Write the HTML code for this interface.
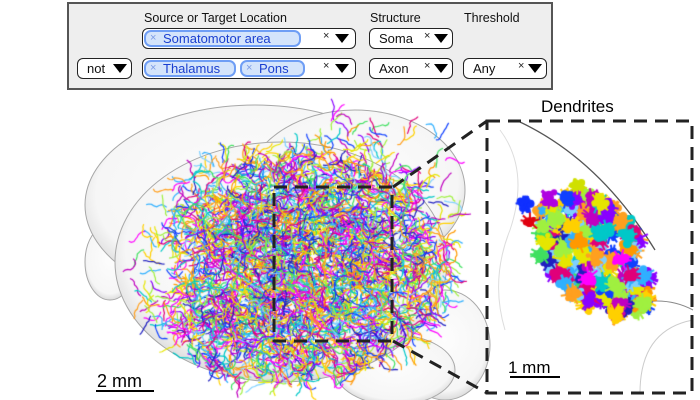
<!DOCTYPE html>
<html><head><meta charset="utf-8"><style>
body{margin:0;width:700px;height:400px;background:#fff;position:relative;overflow:hidden;font-family:"Liberation Sans",sans-serif}
#panel{position:absolute;left:67px;top:2px;width:482px;height:84px;background:#eeeeee;border:2px solid #555;box-sizing:content-box}
.lbl{position:absolute;font-size:12.5px;color:#111}
.sel{position:absolute;height:21px;border:1.5px solid #222;border-radius:6px;background:#fff;box-sizing:border-box}
.chip{position:absolute;top:1px;height:17px;border:2px solid #6f9ef5;border-radius:7px;background:#d4e4fb;box-sizing:border-box;font-size:13px;color:#1a3fd0;line-height:13px;padding-left:17px}
.chip:before{content:"×";position:absolute;left:4px;top:0px;color:#7b9be6;font-size:11px}
.x{position:absolute;font-size:11px;top:1px;color:#222}
.tri{position:absolute;top:5px;width:0;height:0;border-left:7px solid transparent;border-right:7px solid transparent;border-top:9px solid #000}
.t{position:absolute;font-size:13px;top:2px;color:#111}
canvas,svg{position:absolute;left:0;top:0}
</style></head><body>
<svg width="700" height="400">
<defs><radialGradient id="g" cx="50%" cy="45%" r="55%"><stop offset="0" stop-color="#fdfdfd"/><stop offset="0.85" stop-color="#f6f6f6"/><stop offset="1" stop-color="#dcdcdc"/></radialGradient></defs>
<g fill="url(#g)" stroke="#a8a8a8" stroke-width="1">
<ellipse cx="445" cy="345" rx="45" ry="55"/>
<ellipse cx="395" cy="370" rx="60" ry="35"/>
<ellipse cx="110" cy="262" rx="25" ry="38"/>
<ellipse cx="255" cy="205" rx="170" ry="100"/>
<ellipse cx="355" cy="190" rx="110" ry="80"/>
<ellipse cx="281" cy="262" rx="166" ry="120"/>
</g>
<path d="M520 122 Q600 160 655 250" fill="none" stroke="#555" stroke-width="1.3"/>
<path d="M630 305 Q665 295 693 310" fill="none" stroke="#888"/>
<path d="M640 393 Q640 330 693 320" fill="none" stroke="#ccc"/>
<path d="M500 130 Q530 170 510 230 Q490 280 505 330" fill="none" stroke="#ddd"/>
</svg>
<canvas id="c" width="700" height="400"></canvas>
<svg width="700" height="400">
<g fill="none" stroke="#222" stroke-width="3" stroke-dasharray="13,8">
<rect x="274" y="187" width="118" height="154"/>
<rect x="487" y="121" width="205" height="272"/>
<line x1="393" y1="187" x2="487" y2="121"/>
<line x1="393" y1="341" x2="487" y2="393"/>
</g>
<line x1="96" y1="391" x2="154" y2="391" stroke="#000" stroke-width="2"/>
<line x1="510" y1="377" x2="560" y2="377" stroke="#000" stroke-width="2"/>
<text x="97" y="387" font-size="18" font-family="Liberation Sans">2 mm</text>
<text x="508" y="373" font-size="17" font-family="Liberation Sans">1 mm</text>
<text x="541" y="112" font-size="17" font-family="Liberation Sans">Dendrites</text>
</svg>
<div id="panel">
<div class="lbl" style="left:75px;top:7px">Source or Target Location</div>
<div class="lbl" style="left:301px;top:7px">Structure</div>
<div class="lbl" style="left:395px;top:7px">Threshold</div>
<div class="sel" style="left:73px;top:24px;width:214px"><div class="chip" style="left:1px;width:157px">Somatomotor area</div><span class="x" style="left:180px">×</span><div class="tri" style="left:192px"></div></div>
<div class="sel" style="left:300px;top:24px;width:84px"><span class="t" style="left:9px">Soma</span><span class="x" style="left:54px">×</span><div class="tri" style="left:64px"></div></div>
<div class="sel" style="left:8px;top:54px;width:55px"><span class="t" style="left:9px">not</span><div class="tri" style="left:35px"></div></div>
<div class="sel" style="left:73px;top:54px;width:214px"><div class="chip" style="left:1px;width:92px">Thalamus</div><div class="chip" style="left:97px;width:65px">Pons</div><span class="x" style="left:180px">×</span><div class="tri" style="left:192px"></div></div>
<div class="sel" style="left:300px;top:54px;width:84px"><span class="t" style="left:9px">Axon</span><span class="x" style="left:54px">×</span><div class="tri" style="left:64px"></div></div>
<div class="sel" style="left:394px;top:54px;width:84px"><span class="t" style="left:9px">Any</span><span class="x" style="left:54px">×</span><div class="tri" style="left:64px"></div></div>
</div>
<script>
var s=7;function r(){s=(s*16807)%2147483647;return s/2147483647;}
var c=document.getElementById('c').getContext('2d');
var cols=['#ff00ff','#e0007a','#ffd000','#e6e600','#00c8c8','#1040ff','#8a00ff','#ff9900','#40e060','#7fd0ff','#c000c0','#ffa020','#30b0ff','#a0f040','#2020c0'];
c.lineWidth=1.2;
function inside(x,y){var dx=(x-290)/160,dy=(y-268)/118;return dx*dx+dy*dy<1;}
for(var i=0;i<4500;i++){
 var x=295+(r()+r()+r()-1.5)*190,y=268+(r()+r()+r()-1.5)*150;
 var ok=inside(x,y)||(x>320&&x<455&&y>120&&y<220&&r()<0.5);
 if(!ok)continue;
 if(x<180&&r()<0.6)continue;
 c.strokeStyle=cols[Math.floor(r()*cols.length)];
 c.beginPath();c.moveTo(x,y);var a=r()*6.28;
 for(var k=0;k<8;k++){a+=(r()-0.5)*1.6;x+=Math.cos(a)*2.8;y+=Math.sin(a)*2.8;c.lineTo(x,y);}
 c.stroke();}
function blob(cx,cy,col,sz){c.fillStyle=col;c.strokeStyle=col;c.lineWidth=2;
 for(var j=0;j<18;j++){var a=r()*6.28,d=r()*sz;c.beginPath();c.arc(cx+Math.cos(a)*d,cy+Math.sin(a)*d,1.5+r()*3,0,6.28);c.fill();}
 for(var j=0;j<5;j++){var a=r()*6.28;c.beginPath();c.moveTo(cx,cy);c.lineTo(cx+Math.cos(a)*sz*1.6,cy+Math.sin(a)*sz*1.6);c.stroke();}}
for(var i=0;i<220;i++){
 var u=r()*2-1,v=r()*2-1; if(u*u+v*v>1)continue;
 var x=595+u*55+v*22,y=255+u*45-v*42;
 blob(x,y,cols[Math.floor(r()*cols.length)],7);}
blob(525,205,'#1030ff',6);blob(530,222,'#e00010',6);blob(550,198,'#b000e0',7);blob(578,185,'#d0e000',6);blob(567,200,'#1040ff',5);
</script>
</body></html>
